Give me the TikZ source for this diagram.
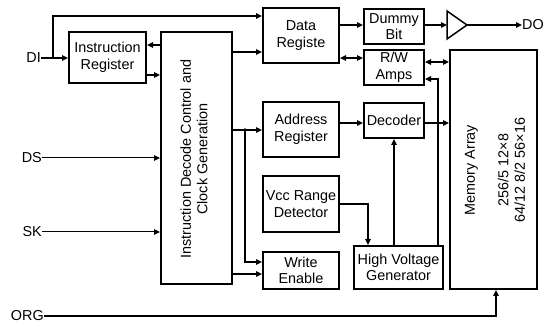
\documentclass[tikz,border=0pt]{standalone}
\usepackage{fontspec}
\setmainfont{Liberation Sans}
\usetikzlibrary{arrows.meta}
\begin{document}
\begin{tikzpicture}[x=1pt,y=-1pt,
  font=\fontsize{14.4}{16.5}\selectfont,
  blk/.style={draw,line width=2pt,inner sep=0pt,align=center},
  conn/.style={line width=1.3pt,-{Triangle[length=6pt,width=5.5pt]}},
  bconn/.style={line width=1.3pt,{Triangle[length=6pt,width=5.5pt]}-{Triangle[length=6pt,width=5.5pt]}},
  lbl/.style={inner sep=0pt}]
\useasboundingbox (0,0) rectangle (547,323);
% blocks
\node[blk,minimum width=77pt,minimum height=51pt] (IR) at (107.5,57.5) {Instruction\\Register};
\node[blk,minimum width=71pt,minimum height=252pt] (DEC) at (196.5,158) {};
\node[rotate=90,align=center,inner sep=0pt] (DECt) at (194,159) {Instruction Decode Control and\\Clock Generation};
\node[blk,minimum width=76pt,minimum height=55pt] (DR) at (301,35.5) {Data\\Registe};
\node[blk,minimum width=60pt,minimum height=35pt] (DB) at (394,26.5) {Dummy\\Bit};
\node[blk,minimum width=60pt,minimum height=35pt] (RW) at (394,67.5) {R/W\\Amps};
\node[blk,minimum width=76pt,minimum height=55pt] (AR) at (301,129.5) {Address\\Register};
\node[blk,minimum width=60pt,minimum height=35pt] (DCD) at (394,120.5) {Decoder};
\node[blk,minimum width=76pt,minimum height=56pt] (VCC) at (301,204) {Vcc Range\\Detector};
\node[blk,minimum width=76pt,minimum height=37pt] (WE) at (301,270.5) {Write\\Enable};
\node[blk,minimum width=89pt,minimum height=43pt] (HVG) at (398.5,267.5) {High Voltage\\Generator};
\node[blk,minimum width=87pt,minimum height=239pt] (MEM) at (493.5,169.5) {};
\node[rotate=90,align=center,inner sep=0pt] (MEMt) at (495,170) {Memory Array\\[17pt]256/5 12×8\\64/12 8/2 56×16};
% buffer
\draw[line width=1.5pt] (447,11) -- (467,25) -- (447,39) -- cycle;
\coordinate (BUFin) at (447,25);
\coordinate (BUFout) at (467,25);
% pin labels
\node[lbl,anchor=east] (DI) at (41,58) {DI};
\node[lbl,anchor=east] (DS) at (42,158) {DS};
\node[lbl,anchor=east] (SK) at (42,232) {SK};
\node[lbl,anchor=east] (ORG) at (44,316) {ORG};
\node[lbl,anchor=west] (DO) at (522,25) {DO};
% connectors
\coordinate (j1) at (53,58);
\draw[conn] (DI.east) -- (DI.east -| IR.west);
\draw[conn] (j1) |- (DR.west |- 0,16);
\draw[conn] (DEC.west |- 0,45) -- (IR.east |- 0,45);
\draw[conn] (IR.east |- 0,75) -- (DEC.west |- 0,75);
\draw[conn,line width=1pt] (DS.east) -- (DS.east -| DEC.west);
\draw[conn,line width=1pt] (SK.east) -- (SK.east -| DEC.west);
\draw[conn] (DEC.east |- 0,52) -- (DR.west |- 0,52);
\coordinate (j2) at (245,130);
\draw[conn] (DEC.east |- j2) -- (AR.west |- j2);
\fill (j2) circle (1.8pt);
\draw[conn] (j2) |- (WE.west |- 0,262);
\draw[conn] (DEC.east |- 0,274) -- (WE.west |- 0,274);
\draw[conn] (DR.east |- 0,25) -- (DB.west |- 0,25);
\draw[conn] (DB.east |- BUFin) -- (BUFin);
\draw[conn] (BUFout) -- (DO.west);
\draw[bconn] (DR.east |- 0,58) -- (RW.west |- 0,58);
\draw[bconn] (RW.east |- 0,62) -- (MEM.west |- 0,62);
\draw[conn] (HVG.north -| 438,0) |- (RW.east |- 0,79);
\draw[conn] (AR.east |- 0,123) -- (DCD.west |- 0,123);
\draw[conn] (DCD.east |- 0,123) -- (MEM.west |- 0,123);
\draw[conn] (HVG.north -| DCD.south) -- (DCD.south);
\draw[conn] (VCC.east |- 0,204) -| (HVG.north -| 368,0);
\draw[conn] (ORG.east) -| (MEM.south -| 496,0);
\end{tikzpicture}
\end{document}
